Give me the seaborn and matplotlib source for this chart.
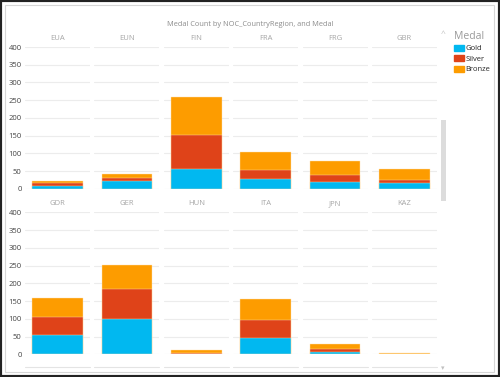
import pandas as pd
import seaborn as sns
import matplotlib.pyplot as plt
from matplotlib.patches import Patch, Rectangle
from matplotlib.lines import Line2D

# medal counts per country
countries = ["EUA", "EUN", "FIN", "FRA", "FRG", "GBR",
             "GDR", "GER", "HUN", "ITA", "JPN", "KAZ"]
gold = [7, 22, 56, 29, 20, 18, 55, 100, 1, 47, 7, 0]
silver = [9, 10, 96, 25, 19, 8, 50, 83, 2, 49, 8, 1]
bronze = [6, 11, 106, 51, 40, 30, 55, 70, 8, 61, 14, 3]
medals = ["Gold", "Silver", "Bronze"]
palette = {"Gold": "#01B8F0", "Silver": "#DF4319", "Bronze": "#FD9C00"}

sns.set_theme(style="white")
plt.rcParams['font.family'] = ['Open Sans', 'DejaVu Sans']

df = pd.DataFrame({"NOC": countries, "Gold": gold, "Silver": silver, "Bronze": bronze})
long = df.melt(id_vars="NOC", var_name="Medal", value_name="Count")
long["Medal"] = pd.Categorical(long["Medal"], medals, ordered=True)
long = long.sort_values(["NOC", "Medal"])
# cumulative height so the bars can be overlaid as a stack
long["Top"] = long.groupby("NOC", observed=True)["Count"].cumsum()


def stacked(data, **kws):
    ax = plt.gca()
    for medal in medals[::-1]:
        sub = data[data["Medal"] == medal]
        sns.barplot(data=sub, x="NOC", y="Top", color=palette[medal],
                    width=0.78, saturation=1, errorbar=None,
                    edgecolor="#ffe2b0", linewidth=0.3, ax=ax)


g = sns.FacetGrid(long, col="NOC", col_wrap=6, col_order=countries,
                  sharex=False, sharey=True, height=1.5, aspect=0.46)
g.map_dataframe(stacked)
fig = g.figure
fig.set_size_inches(5, 3.77)
fig.subplots_adjust(left=0.05, right=0.874, top=0.8753, bottom=0.0602,
                    wspace=0.07, hspace=0.165)

g.set_titles("{col_name}", color="#a6a6a6", size=5.5, pad=5)
for ax in g.axes.flat:
    ax.set_ylim(0, 400)
    ax.set_xlim(-0.5, 0.5)
    ax.set_yticks(range(0, 401, 50))
    ax.set_xticks([])
    ax.set_xlabel("")
    ax.set_ylabel("")
    ax.grid(axis="y", color="#ececec", lw=0.8)
    ax.set_axisbelow(True)
    sns.despine(ax=ax, left=True, bottom=True)
    ax.tick_params(axis="y", length=0, pad=2.5, labelsize=5.5, labelcolor="#444444")

# faint tops of the next (scrolled-away) row
for ax in g.axes.flat[6:]:
    pos = ax.get_position()
    fig.add_artist(Line2D([pos.x0, pos.x1], [1 - 367 / 377] * 2,
                          transform=fig.transFigure, color="#e4e4e4", lw=0.8))

fig.text(0.5, 1 - 25 / 377, "Medal Count by NOC_CountryRegion, and Medal",
         ha="center", va="center", size=5.3, color="#8c8c8c")

handles = [Patch(color=palette[m]) for m in medals]
leg = fig.legend(handles, medals, title="Medal", loc="upper left",
                 bbox_to_anchor=(454 / 500, 1 - 31 / 377), frameon=False,
                 fontsize=5.5, title_fontsize=7.5, handlelength=1.3,
                 handleheight=0.9, handletextpad=0.2, labelspacing=0.35,
                 borderaxespad=0, borderpad=0, alignment="left")
leg.get_title().set_color("#9a9a9a")

# scrollbar and frame
fig.add_artist(Rectangle((441 / 500, (377 - 201) / 377), 5 / 500, 81 / 377,
                         transform=fig.transFigure, color="#dcdcdc", lw=0))
fig.text(443 / 500, 1 - 35 / 377, "^", ha="center", va="center", size=6, color="#c0c0c0")
fig.text(443 / 500, 1 - 369 / 377, "▾", ha="center", va="center", size=5, color="#c0c0c0")
fig.add_artist(Rectangle((5 / 500, 5 / 377), 489 / 500, 367 / 377,
                         transform=fig.transFigure, fill=False, ec="#d6d6d6", lw=0.8))
fig.add_artist(Rectangle((0, 0), 1, 1, transform=fig.transFigure,
                         fill=False, ec="#222222", lw=3))

fig.savefig("out.png", dpi=100)
